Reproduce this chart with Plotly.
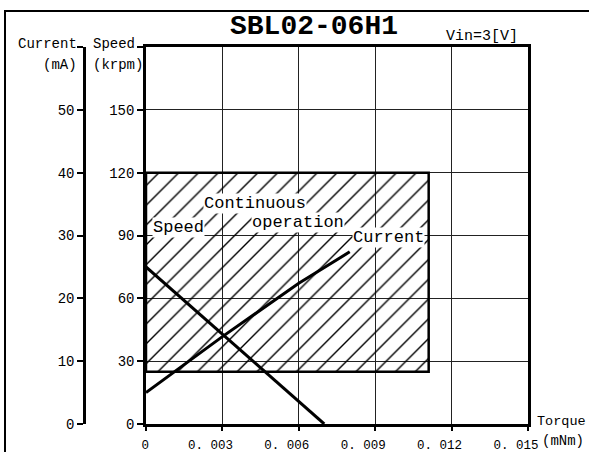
import plotly.graph_objects as go

# ---- data ----
torque_ticks = [0, 0.003, 0.006, 0.009, 0.012, 0.015]
torque_tick_text = ["0", "0. 003", "0. 006", "0. 009", "0. 012", "0. 015"]
speed_ticks = [0, 30, 60, 90, 120, 150, 180]
speed_tick_text = ["0", "30", "60", "90", "120", "150", ""]
current_ticks = [0, 10, 20, 30, 40, 50, 60]
current_tick_text = ["0", "10", "20", "30", "40", "50", ""]

speed_torque = [0, 0.007]
speed_values = [75, 0]

current_torque = [0, 0.003, 0.006, 0.008]
current_values = [5, 13.9, 22.4, 27.4]

cont_torque = [0, 0.0111, 0.0111, 0, 0]
cont_speed = [25, 25, 120, 120, 25]

W, H = 589, 452
L, R, T, B = 84, 528, 47, 424  # plot area pixels (incl. current axis)


def px(x):
    return (x - L) / (R - L)


def py(y):
    return (B - y) / (B - T)


FONT = "Liberation Mono"
NB = "\u00a0"

fig = go.Figure()

fig.add_trace(go.Scatter(
    x=cont_torque, y=cont_speed, mode="lines", fill="toself",
    fillcolor="rgba(0,0,0,0)",
    fillpattern=dict(shape="/", size=14, solidity=0.1, fgcolor="black",
                     fgopacity=1, bgcolor="rgba(0,0,0,0)"),
    line=dict(color="black", width=2.5), showlegend=False, hoverinfo="skip"))

fig.add_trace(go.Scatter(
    x=speed_torque, y=speed_values, mode="lines",
    line=dict(color="black", width=3), showlegend=False))

fig.add_trace(go.Scatter(
    x=current_torque, y=current_values, mode="lines", yaxis="y2",
    line=dict(color="black", width=3), showlegend=False))

tick_font = dict(family=FONT, size=14, color="black")


def xlabel(t):
    # the zero label sits centred on its tick; the others sit a little to the left
    return NB * 3 + t if t == "0" else t


fig.update_layout(
    width=W, height=H,
    margin=dict(l=L, r=W - R, t=T, b=H - B, pad=0, autoexpand=False),
    paper_bgcolor="white", plot_bgcolor="white",
    xaxis=dict(
        domain=[(146 - L) / (R - L), 1], range=[0, 0.015],
        tickvals=torque_ticks,
        ticktext=[xlabel(t) for t in torque_tick_text],
        tickangle=0, automargin=False, ticklabelshift=-12,
        ticks="outside", ticklen=4, tickwidth=1.5, tickcolor="black",
        showline=True, linecolor="black", linewidth=2.5, mirror=True,
        showgrid=True, gridcolor="#222", gridwidth=1, zeroline=False,
        ticklabelstandoff=3, tickfont=dict(family=FONT, size=12.5, color="black")),
    yaxis=dict(
        anchor="x", range=[0, 180], tickvals=speed_ticks, ticktext=speed_tick_text,
        automargin=False,
        ticks="outside", ticklen=6, tickwidth=2, tickcolor="black",
        showline=True, linecolor="black", linewidth=2.5, mirror=True,
        showgrid=True, gridcolor="#222", gridwidth=1, zeroline=False,
        tickfont=tick_font),
    yaxis2=dict(
        overlaying="y", anchor="free", position=0, side="left",
        range=[0, 60], tickvals=current_ticks, ticktext=current_tick_text,
        automargin=False,
        ticks="outside", ticklen=6, tickwidth=2, tickcolor="black",
        showline=True, linecolor="black", linewidth=2.5,
        showgrid=False, zeroline=False, tickfont=tick_font),
)

anns = [
    ("SBL02-06H1", 314, 27, "center", dict(family=FONT, size=28, color="black"), True, False),
    ("Vin=3[V]", 445, 36, "left", dict(family=FONT, size=15, color="black"), False, False),
    ("Current", 78, 44, "right", dict(family=FONT, size=14, color="black"), False, False),
    ("(mA)", 78, 65, "right", dict(family=FONT, size=14, color="black"), False, False),
    ("Speed", 92, 44, "left", dict(family=FONT, size=14, color="black"), False, False),
    ("(krpm)", 92, 65, "left", dict(family=FONT, size=14, color="black"), False, False),
    ("Torque", 536, 421, "left", dict(family=FONT, size=13.5, color="black"), False, False),
    ("(mNm)", 541, 441, "left", dict(family=FONT, size=14, color="black"), False, False),
    ("Speed", 152, 227, "left", dict(family=FONT, size=17, color="black"), False, True),
    ("Continuous", 203, 203, "left", dict(family=FONT, size=17, color="black"), False, True),
    ("operation", 251, 222, "left", dict(family=FONT, size=17, color="black"), False, True),
    ("Current", 352, 237, "left", dict(family=FONT, size=17, color="black"), False, True),
]
for text, x, y, xa, font, bold, bg in anns:
    fig.add_annotation(
        text=f"<b>{text}</b>" if bold else text,
        x=px(x), y=py(y), xref="paper", yref="paper",
        xanchor=xa, yanchor="middle", showarrow=False, font=font,
        bgcolor="white" if bg else "rgba(0,0,0,0)", borderpad=0)

# outer frame
fig.add_shape(type="rect", xref="paper", yref="paper",
              x0=px(5), y0=py(470), x1=px(610), y1=py(11),
              line=dict(color="black", width=2), layer="below")

fig.write_html("out.html", config={"displayModeBar": False},
               post_script="document.body.style.margin='0px';document.body.style.overflow='hidden';")
